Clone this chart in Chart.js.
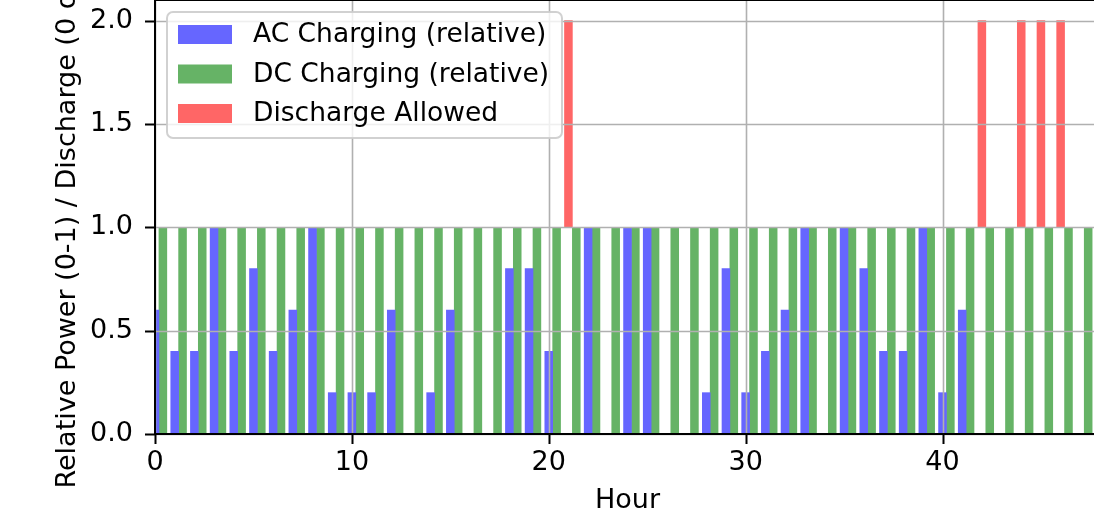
<!DOCTYPE html>
<html>
<head>
<meta charset="utf-8">
<script src="https://cdn.jsdelivr.net/npm/chart.js@4/dist/chart.umd.min.js"></script>
<style>
  html, body { margin: 0; padding: 0; background: #fff; overflow: hidden; }
  #wrap { width: 1094px; height: 521px; overflow: hidden; }
</style>
</head>
<body>
<div id="wrap"><canvas id="chart" width="1100" height="521"></canvas></div>
<script>
// hour index of each time slot
const hours = [
    0, 1, 2, 3, 4, 5, 6, 7, 8, 9, 10, 11, 12, 13, 14, 15,
    16, 17, 18, 19, 20, 21, 22, 23, 24, 25, 26, 27, 28, 29, 30, 31,
    32, 33, 34, 35, 36, 37, 38, 39, 40, 41, 42, 43, 44, 45, 46, 47
];
// relative AC charging power (0-1)
const acCharging = [
    0.6, 0.4, 0.4, 1.0, 0.4, 0.8, 0.4, 0.6, 1.0, 0.2, 0.2, 0.2, 0.6, 0, 0.2, 0.6,
    0, 0, 0.8, 0.8, 0.4, 0, 1.0, 0, 1.0, 1.0, 0, 0, 0.2, 0.8, 0.2, 0.4,
    0.6, 1.0, 0, 1.0, 0.8, 0.4, 0.4, 1.0, 0.2, 0.6, 0, 0, 0, 0, 0, 0
];
// relative DC charging power (0-1)
const dcCharging = [
    1, 1, 1, 1, 1, 1, 1, 1, 1, 1, 1, 1, 1, 1, 1, 1,
    1, 1, 1, 1, 1, 1, 1, 1, 1, 1, 1, 1, 1, 1, 1, 1,
    1, 1, 1, 1, 1, 1, 1, 1, 1, 1, 1, 1, 1, 1, 1, 1
];
// discharge allowed flag (0 or 1), drawn on top of the 1.0 line
const discharge = [
    0, 0, 0, 0, 0, 0, 0, 0, 0, 0, 0, 0, 0, 0, 0, 0,
    0, 0, 0, 0, 0, 1, 0, 0, 0, 0, 0, 0, 0, 0, 0, 0,
    0, 0, 0, 0, 0, 0, 0, 0, 0, 0, 1, 0, 1, 1, 1, 0
];
const xTicks = [0, 10, 20, 30, 40];
const yTicks = [0, 0.5, 1.0, 1.5, 2.0];

const barWidth = 0.4;          // same as matplotlib width
const dischargeBase = 1;
const FONT = 'DejaVu Sans';

// grid, spines and tick marks go on top of the bars, like matplotlib
const axesOverlay = {
    id: 'axesOverlay',
    afterDatasetsDraw(chart) {
        const { ctx, chartArea: a, scales: { x, y } } = chart;
        ctx.save();
        ctx.strokeStyle = '#b0b0b0';
        ctx.lineWidth = 1.6;
        ctx.beginPath();
        xTicks.forEach(v => {
            const px = Math.round(x.getPixelForValue(v)) + 0.5;
            ctx.moveTo(px, a.top); ctx.lineTo(px, a.bottom);
        });
        yTicks.forEach(v => {
            const py = Math.round(y.getPixelForValue(v)) + 0.5;
            ctx.moveTo(a.left, py); ctx.lineTo(a.right, py);
        });
        ctx.stroke();

        ctx.strokeStyle = '#000';
        ctx.lineWidth = 2;
        ctx.beginPath();
        ctx.moveTo(a.left, a.top); ctx.lineTo(a.right, a.top);
        ctx.moveTo(a.left, a.top); ctx.lineTo(a.left, a.bottom);
        ctx.moveTo(a.left - 1, a.bottom); ctx.lineTo(a.right, a.bottom);
        xTicks.forEach(v => {
            const px = Math.round(x.getPixelForValue(v)) + 0.5;
            ctx.moveTo(px, a.bottom); ctx.lineTo(px, a.bottom + 10);
        });
        yTicks.forEach(v => {
            const py = Math.round(y.getPixelForValue(v)) + 0.5;
            ctx.moveTo(a.left, py); ctx.lineTo(a.left - 10, py);
        });
        ctx.stroke();
        ctx.restore();
    },
    afterDraw(chart) {
        // legend box, upper left inside the axes
        const { ctx } = chart;
        const bx = 167, by = 12, bw = 395, bh = 126, r = 6;
        ctx.save();
        ctx.beginPath();
        ctx.roundRect(bx, by, bw, bh, r);
        ctx.fillStyle = 'rgba(255,255,255,0.8)';
        ctx.fill();
        ctx.strokeStyle = 'rgba(204,204,204,0.9)';
        ctx.lineWidth = 2;
        ctx.stroke();

        ctx.font = `26.5px "${FONT}"`;
        ctx.textBaseline = 'middle';
        ctx.textAlign = 'left';
        chart.data.datasets.forEach((ds, i) => {
            const cy = 34.5 + i * 39.5;
            ctx.fillStyle = ds.backgroundColor;
            ctx.fillRect(178, cy - 9.5, 54, 19);
            ctx.fillStyle = '#000';
            ctx.fillText(ds.label, 253, cy + 1);
        });
        ctx.restore();
    }
};

const dischargePoints = [];
hours.forEach((h, i) => {
    if (discharge[i]) dischargePoints.push({ x: h, y: [dischargeBase, dischargeBase + discharge[i]] });
});

new Chart(document.getElementById('chart'), {
    type: 'bar',
    data: {
        datasets: [
            {
                label: 'AC Charging (relative)',
                data: hours.map((h, i) => ({ x: h, y: acCharging[i] })),
                backgroundColor: '#6666ff'
            },
            {
                label: 'DC Charging (relative)',
                data: hours.map((h, i) => ({ x: h + barWidth, y: dcCharging[i] })),
                backgroundColor: '#66b366'
            },
            {
                label: 'Discharge Allowed',
                data: dischargePoints,
                backgroundColor: '#ff6666'
            }
        ]
    },
    options: {
        responsive: false,
        animation: false,
        devicePixelRatio: 1,
        layout: { padding: 0 },
        datasets: {
            bar: {
                grouped: false,
                barPercentage: 1,
                categoryPercentage: 1,
                borderWidth: 0
            }
        },
        plugins: {
            legend: { display: false },
            tooltip: { enabled: false }
        },
        scales: {
            x: {
                type: 'linear',
                offset: false,
                min: 0,
                max: 48,
                grid: { display: false, drawTicks: false, offset: false },
                border: { display: false },
                ticks: {
                    stepSize: 10,
                    includeBounds: false,
                    padding: 13,
                    color: '#000',
                    maxRotation: 0,
                    font: { family: FONT, size: 27 }
                },
                title: {
                    display: true,
                    text: 'Hour',
                    color: '#000',
                    font: { family: FONT, size: 27 },
                    padding: { top: 0, bottom: 4 }
                },
                afterFit(scale) {
                    scale.height = 87;
                    scale.paddingLeft = 0;
                    scale.paddingRight = 0;
                }
            },
            y: {
                min: 0,
                max: 2.1,
                grid: { display: false, drawTicks: false },
                border: { display: false },
                ticks: {
                    stepSize: 0.5,
                    includeBounds: false,
                    padding: 22,
                    color: '#000',
                    font: { family: FONT, size: 27 },
                    callback: v => v.toFixed(1)
                },
                title: {
                    display: true,
                    text: 'Relative Power (0-1) / Discharge (0 or 1)',
                    color: '#000',
                    font: { family: FONT, size: 27 },
                    padding: { top: 51.5, bottom: 0 }
                },
                afterFit(scale) {
                    scale.width = 155;
                    scale.paddingTop = 0;
                    scale.paddingBottom = 0;
                }
            }
        }
    },
    plugins: [axesOverlay]
});
</script>
</body>
</html>
